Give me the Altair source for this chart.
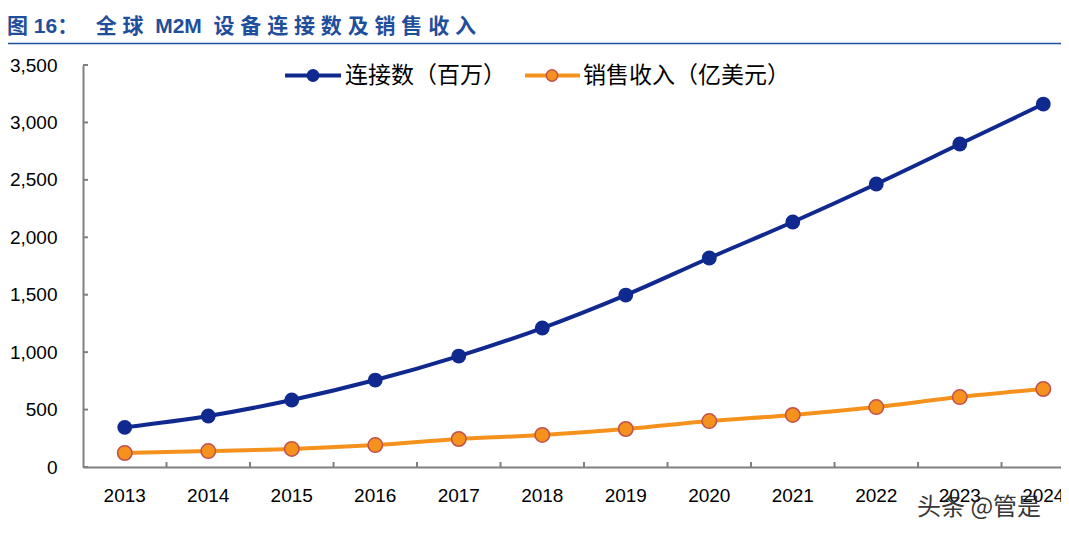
import altair as alt
import pandas as pd

# ---- data ----
years = [2013, 2014, 2015, 2016, 2017, 2018, 2019, 2020, 2021, 2022, 2023, 2024]
connections = [345, 444, 583, 757, 966, 1210, 1497, 1820, 2133, 2464, 2812, 3160]
revenue = [122, 139, 157, 191, 244, 279, 331, 400, 453, 522, 609, 679]
series_names = ["连接数（百万）", "销售收入（亿美元）"]
y_ticks = [0, 500, 1000, 1500, 2000, 2500, 3000, 3500]
x_boundaries = [2013.5, 2014.5, 2015.5, 2016.5, 2017.5, 2018.5, 2019.5, 2020.5, 2021.5, 2022.5, 2023.5]
title_text = "图\u00a016：\u00a0\u00a0\u00a0全\u00a0球\u00a0\u00a0M2M\u00a0\u00a0设\u00a0备\u00a0连\u00a0接\u00a0数\u00a0及\u00a0销\u00a0售\u00a0收\u00a0入"
watermark = "头条 @管是"

BLUE = "#10298f"
ORANGE = "#f5921e"
ORANGE_EDGE = "#c0504d"
GRAY = "#808080"
TITLE_BLUE = "#1f4e9b"

W, H = 978, 402
xs = alt.Scale(domain=[2012.5, 2024.212], nice=False, zero=False)
ys = alt.Scale(domain=[0, 3500], nice=False, zero=True)

x_axis = alt.Axis(labels=False, ticks=False, grid=False, title=None,
                  domainColor=GRAY, domainWidth=2)
y_axis = alt.Axis(values=y_ticks, labelExpr="format(datum.value, ',')", ticks=False,
                  grid=False, title=None, domainColor=GRAY, domainWidth=2,
                  labelFont="Liberation Sans", labelFontSize=19, labelColor="#000000",
                  labelPadding=26)

df = pd.DataFrame({"year": years, "conn": connections, "rev": revenue})
base = alt.Chart(df)

conn_line = base.mark_line(color=BLUE, strokeWidth=4, interpolate="monotone").encode(
    x=alt.X("year:Q", scale=xs, axis=x_axis),
    y=alt.Y("conn:Q", scale=ys, axis=y_axis),
)
conn_pts = base.mark_point(filled=True, color=BLUE, size=220, opacity=1).encode(
    x=alt.X("year:Q", scale=xs, axis=x_axis), y=alt.Y("conn:Q", scale=ys, axis=y_axis))

rev_line = base.mark_line(color=ORANGE, strokeWidth=4, interpolate="monotone").encode(
    x=alt.X("year:Q", scale=xs, axis=x_axis), y=alt.Y("rev:Q", scale=ys, axis=y_axis))
rev_pts = base.mark_point(filled=True, fill=ORANGE, stroke=ORANGE_EDGE, strokeWidth=1.5,
                          size=210, opacity=1).encode(
    x=alt.X("year:Q", scale=xs, axis=x_axis), y=alt.Y("rev:Q", scale=ys, axis=y_axis))

# inward ticks
yt = alt.Chart(pd.DataFrame({"v": y_ticks})).mark_rule(color=GRAY, strokeWidth=2).encode(
    y=alt.Y("v:Q", scale=ys, axis=y_axis), x=alt.value(0), x2=alt.value(5))
xt = alt.Chart(pd.DataFrame({"b": x_boundaries})).mark_rule(color=GRAY, strokeWidth=2).encode(
    x=alt.X("b:Q", scale=xs, axis=x_axis), y=alt.value(H), y2=alt.value(H - 5))

# year labels
year_lbl = base.mark_text(font="Liberation Sans", fontSize=19, color="#000000",
                          baseline="middle", align="center").encode(
    x=alt.X("year:Q", scale=xs, axis=x_axis), y=alt.value(H + 29),
    text=alt.Text("year:Q", format="d"))

# legend (manual)
leg_layers = []
leg_specs = [
    (series_names[0], BLUE, BLUE, 202, 258, 230, 262),
    (series_names[1], ORANGE, ORANGE_EDGE, 442, 497, 469, 500),
]
for name, col, edge, x1, x2, cx, tx in leg_specs:
    lc = alt.Chart(pd.DataFrame({"name": [name]}))
    leg_layers.append(lc.mark_rule(color=col, strokeWidth=4).encode(
        x=alt.value(x1), x2=alt.value(x2), y=alt.value(10.5)))
    leg_layers.append(lc.mark_point(filled=True, fill=col, stroke=edge, strokeWidth=1.5,
                                    size=130, opacity=1).encode(
        x=alt.value(cx), y=alt.value(10.5)))
    leg_layers.append(lc.mark_text(font="Noto Sans CJK SC", fontSize=23, color="#000000",
                                   align="left", baseline="middle").encode(
        x=alt.value(tx), y=alt.value(10.5), text="name:N"))

# title and rule under it
tdf = pd.DataFrame({"t": [title_text]})
title_mark = alt.Chart(tdf).mark_text(font="Liberation Sans, Noto Sans CJK SC", fontSize=21,
                                      fontWeight="bold", color=TITLE_BLUE, align="left",
                                      baseline="middle").encode(
    x=alt.value(-76), y=alt.value(-38), text="t:N")
title_rule = alt.Chart(tdf).mark_rule(color=TITLE_BLUE, strokeWidth=1.5).encode(
    x=alt.value(-75), x2=alt.value(W), y=alt.value(-21.5))

wm = alt.Chart(pd.DataFrame({"w": [watermark]})).mark_text(
    font="Noto Sans CJK SC", fontSize=24, color="#222222", align="left",
    baseline="middle", opacity=0.9).encode(
    x=alt.value(834), y=alt.value(443), text="w:N")

chart = alt.layer(
    conn_line, rev_line, conn_pts, rev_pts, yt, xt, year_lbl,
    *leg_layers, title_mark, title_rule, wm,
).properties(
    width=W, height=H,
    autosize=alt.AutoSizeParams(type="none"),
    padding={"left": 75, "top": 57, "right": 0, "bottom": 61},
    background="white",
).configure_view(stroke=None)

chart.save("out.html", embed_options={"renderer": "svg", "actions": False})
